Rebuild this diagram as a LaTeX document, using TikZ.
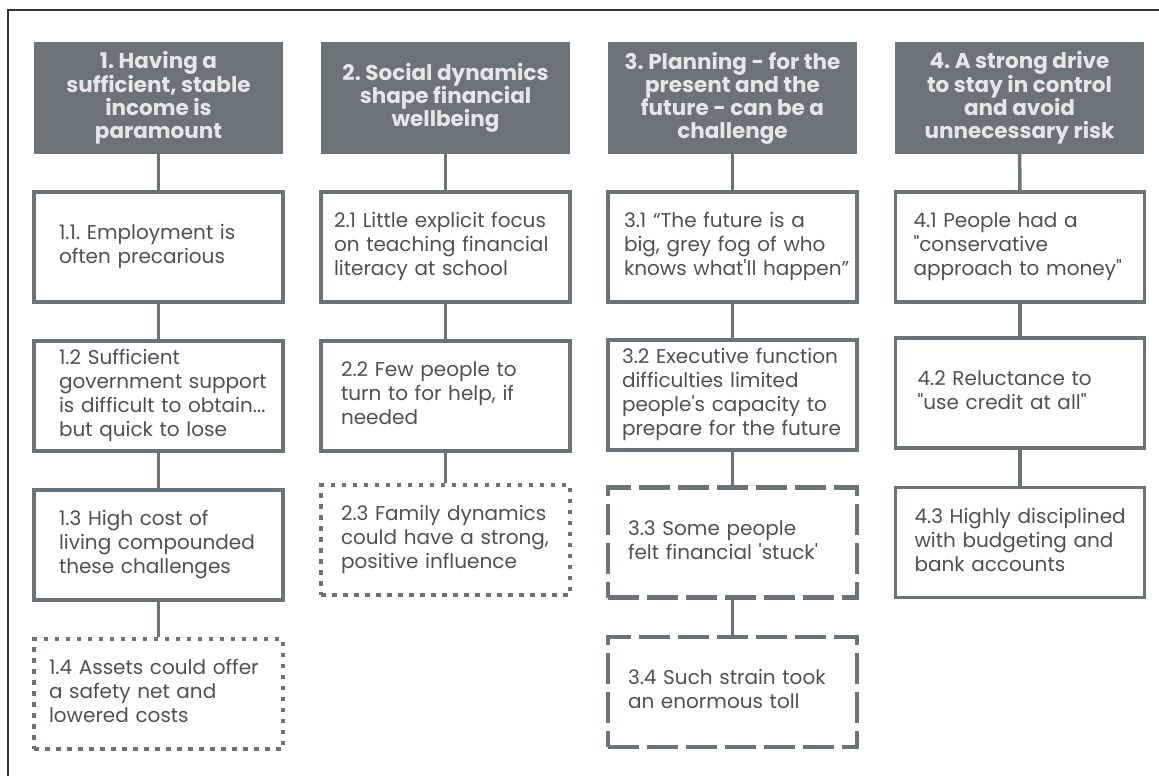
\documentclass[tikz,border=0pt]{standalone}
\usepackage{fontspec}
\usepackage{xcolor}
\setmainfont{Poppins}[Ligatures=TeXOff]
\newfontfamily\headfont{Poppins}[Ligatures=TeXOff]
\definecolor{hdrgrey}{HTML}{6C7377}
\definecolor{hdrtext}{HTML}{E6E6E6}
\definecolor{linegrey}{HTML}{6C7377}
\definecolor{bodytext}{HTML}{505050}
\newcommand{\inset}[2]{\hspace*{#1pt}\begin{tabular}{@{}l@{}}#2\end{tabular}}
\frenchspacing

\tikzset{
  theme/.style={fill=hdrgrey, text=hdrtext, minimum width=249pt, minimum height=112pt,
    inner sep=0pt, align=center, font=\headfont\bfseries\fontsize{21.5}{23}\selectfont},
  finding/.style={draw=linegrey, line width=3.2pt, minimum width=249pt, minimum height=110pt,
    inner xsep=0pt, inner ysep=0pt, text width=249pt, align=left, text=bodytext,
    font=\fontsize{20}{24}\selectfont},
  dotbox/.style={finding, line width=4.5pt, dash pattern=on 4.5pt off 6.5pt},
  dashbox/.style={finding, line width=4.2pt, dash pattern=on 31pt off 8pt},
  link/.style={draw=linegrey, line width=3.5pt}
}

\begin{document}
\begin{tikzpicture}[x=1pt, y=-1pt]
\useasboundingbox (0,0) rectangle (1159,776);
\draw[line width=1.5pt, black!80] (8,776) -- (8,10) -- (1159,10);

\node[theme] (t1) at (158.5,98) {1. Having a\\sufficient, stable\\income is\\paramount};
\node[theme] (t2) at (445.5,98) {2. Social dynamics\\shape financial\\wellbeing};
\node[theme] (t3) at (732.5,98) {3. Planning - for the\\present and the\\future - can be a\\challenge};
\node[theme] (t4) at (1019.5,98) {4. A strong drive\\to stay in control\\and avoid\\unnecessary risk};

\node[finding] (f11) at (158.5,247) {\inset{25}{1.1. Employment is\\often precarious}};
\node[finding] (f12) at (158.5,396) {\inset{25}{1.2 Sufficient\\government support\\is difficult to obtain...\\but quick to lose}};
\node[finding] (f13) at (158.5,545) {\inset{25}{1.3 High cost of\\living compounded\\these challenges}};
\node[dotbox] (f14) at (158.5,694) {\inset{15}{1.4 Assets could offer\\a safety net and\\lowered costs}};

\node[finding] (f21) at (445.5,247) {\inset{13}{2.1 Little explicit focus\\on teaching financial\\literacy at school}};
\node[finding] (f22) at (445.5,396) {\inset{20}{2.2 Few people to\\turn to for help, if\\needed}};
\node[dotbox] (f23) at (445.5,540) {\inset{20}{2.3 Family dynamics\\could have a strong,\\positive influence}};

\node[finding] (f31) at (732.5,247) {\inset{16}{3.1 “The future is a\\big, grey fog of who\\knows what'll happen”}};
\node[finding] (f32) at (732.5,395) {\inset{14}{3.2 Executive function\\difficulties limited\\people's capacity to\\prepare for the future}};
\node[dashbox] (f33) at (732.5,542.5) {\inset{20}{3.3 Some people\\felt financial 'stuck'}};
\node[dashbox] (f34) at (732.5,692) {\inset{20}{3.4 Such strain took\\an enormous toll}};

\node[finding] (f41) at (1020,247) {\inset{18}{4.1 People had a\\"conservative\\approach to money"}};
\node[finding] (f42) at (1020,393) {\inset{22}{4.2 Reluctance to\\"use credit at all"}};
\node[finding] (f43) at (1020,542.5) {\inset{19}{4.3 Highly disciplined\\with budgeting and\\bank accounts}};

\draw[link] (t1) -- (f11);
\draw[link] (f11) -- (f12);
\draw[link] (f12) -- (f13);
\draw[link] (f13) -- (f14);
\draw[link] (t2) -- (f21);
\draw[link] (f21) -- (f22);
\draw[link] (f22) -- (f23);
\draw[link] (t3) -- (f31);
\draw[link] (f31) -- (f32);
\draw[link] (f32) -- (f33);
\draw[link] (f33) -- (f34);
\draw[link] (t4) -- (f41);
\draw[link] (f41) -- (f42);
\draw[link] (f42) -- (f43);
\end{tikzpicture}
\end{document}
